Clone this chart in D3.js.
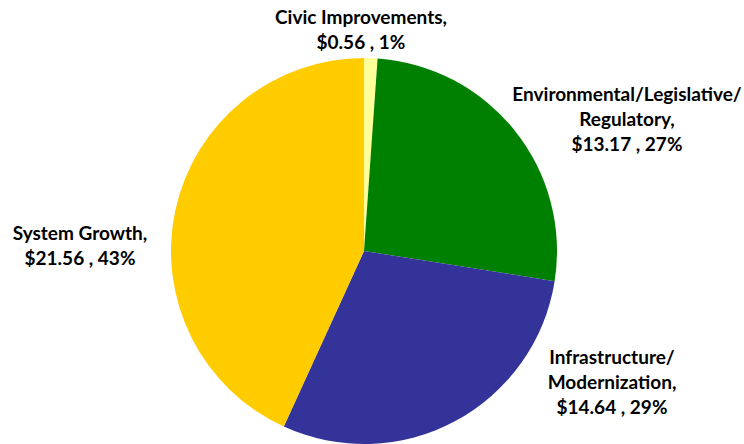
<!DOCTYPE html>
<html><head><meta charset="utf-8">
<script src="https://cdn.jsdelivr.net/npm/d3@7"></script>
<style>body{margin:0;background:#fff}svg{display:block}</style>
</head><body>
<script>
const categories = ["Civic Improvements", "Environmental/Legislative/Regulatory", "Infrastructure/Modernization", "System Growth"];
const values = [0.56, 13.17, 14.64, 21.56];
const percents = ["1%", "27%", "29%", "43%"];
const colors = ["#FFFF99", "#008000", "#333399", "#FFCC00"];
const labelLines = [
  ["Civic Improvements,", "$0.56 , 1%"],
  ["Environmental/Legislative/", "Regulatory,", "$13.17 , 27%"],
  ["Infrastructure/", "Modernization,", "$14.64 , 29%"],
  ["System Growth,", "$21.56 , 43%"]
];
const labelPos = [[361, 16], [627, 93], [612, 356], [80, 232]];

const W = 744, H = 444, cx = 364, cy = 251, R = 193;
const svg = d3.select("body").append("svg").attr("width", W).attr("height", H);
const pie = d3.pie().sort(null).value(d => d)(values);
const arc = d3.arc().innerRadius(0).outerRadius(R);
const g = svg.append("g").attr("transform", `translate(${cx},${cy})`);
g.selectAll("path").data(pie).join("path").attr("d", arc).attr("fill", (d, i) => colors[i]);

const lg = svg.append("g").attr("font-family", "Lato, 'Open Sans', sans-serif").attr("font-weight", "bold").attr("font-size", 19).attr("fill", "#000");
labelLines.forEach((lines, i) => {
  const t = lg.append("text").attr("text-anchor", "middle").attr("x", labelPos[i][0]).attr("y", labelPos[i][1]).attr("dominant-baseline", "central");
  lines.forEach((l, j) => t.append("tspan").attr("x", labelPos[i][0]).attr("dy", j === 0 ? 0 : 25).text(l));
});
</script>
</body></html>
